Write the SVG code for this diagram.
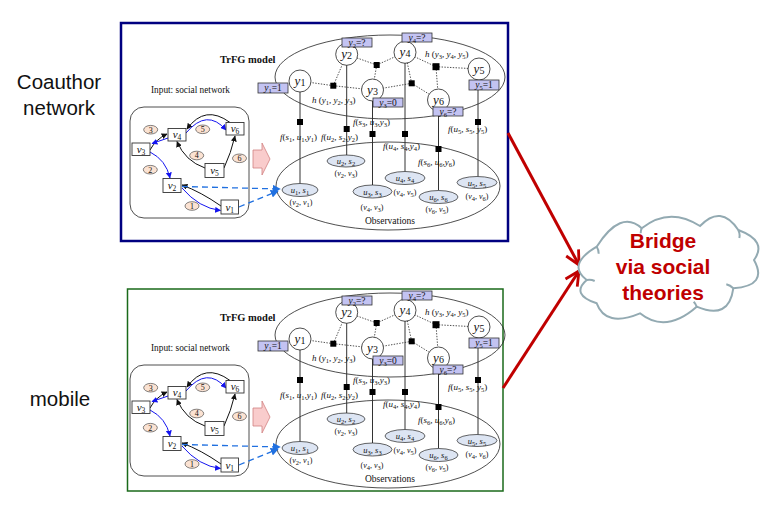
<svg xmlns="http://www.w3.org/2000/svg" width="777" height="509" viewBox="0 0 777 509">
<style>
.ln{fill:none;stroke:#222;stroke-width:0.8}
.vl{stroke:#333;stroke-width:1;fill:none}
.dt{stroke:#222;stroke-width:0.8;stroke-dasharray:1.4 1.4;fill:none}
.sq{fill:#000}
.yc{fill:#fff;stroke:#222;stroke-width:0.8}
.lb{fill:#c3c3f2;stroke:#333;stroke-width:0.8}
.ob{fill:#dde5f3;stroke:#222;stroke-width:0.7}
.nd{fill:#fff;stroke:#333;stroke-width:0.9}
.nm{fill:#fbe2d2;stroke:#333;stroke-width:0.6}
.t{font-family:"Liberation Serif","Times New Roman",serif;fill:#111}
.i{font-style:italic}
.s{font-size:6.5px;baseline-shift:-2px}
.s2{font-size:10px;baseline-shift:-1px}
.s3{font-size:7.5px;baseline-shift:-2px}
.yl{font-size:13px;text-anchor:middle}
.bl{font-size:9.5px;text-anchor:middle}
.fl{font-size:9px}
.ol{font-size:8.5px;text-anchor:middle}
.vt{font-size:8px;text-anchor:middle}
.nl{font-size:11px;text-anchor:middle}
.nn{font-size:8px;text-anchor:middle}
.eb{stroke:#1414f0;stroke-width:1;fill:none}
.ek{stroke:#111;stroke-width:1;fill:none}
.ed{stroke:#2070e0;stroke-width:1.3;stroke-dasharray:6 4;fill:none}
.pa{fill:#f9cccc;stroke:#d08080;stroke-width:0.8}
.big{font-family:"Liberation Sans",Arial,sans-serif;font-size:20.5px;fill:#111;text-anchor:middle}
.ct{font-family:"Liberation Sans",Arial,sans-serif;font-size:21px;font-weight:bold;fill:#c00000;text-anchor:middle}
</style>
<defs>
<marker id="ak" viewBox="0 0 10 10" refX="9" refY="5" markerWidth="6" markerHeight="6" markerUnits="userSpaceOnUse" orient="auto"><path d="M0,0 L10,5 L0,10 z" fill="#111"/></marker>
<marker id="ab" viewBox="0 0 10 10" refX="9" refY="5" markerWidth="6" markerHeight="6" markerUnits="userSpaceOnUse" orient="auto"><path d="M0,0 L10,5 L0,10 z" fill="#1414f0"/></marker>
<marker id="ad" viewBox="0 0 10 10" refX="9" refY="5" markerWidth="8" markerHeight="8" markerUnits="userSpaceOnUse" orient="auto"><path d="M0,0 L10,5 L0,10 z" fill="#2070e0"/></marker>
<marker id="ar" viewBox="0 0 10 10" refX="10" refY="5" markerWidth="14" markerHeight="14" markerUnits="userSpaceOnUse" orient="auto" overflow="visible"><path d="M0,0 L10,5 L0,10" fill="none" stroke="#c00000" stroke-width="2"/></marker>
</defs>
<rect width="777" height="509" fill="#fff"/>

<g id="label-coauthor"><text x="59" y="89" class="big">Coauthor</text><text x="59" y="115" class="big">network</text></g>
<g id="label-mobile"><text x="60" y="406" class="big">mobile</text></g>

<g id="coauthor-panel">
<rect x="121" y="23" width="387" height="218" fill="none" stroke="#000080" stroke-width="2.5"/>
<g id="c-frame">
<ellipse cx="390" cy="77" rx="115" ry="42" class="ln"/>
<ellipse cx="388" cy="186" rx="112" ry="44" class="ln"/>
<text x="390" y="224" class="t" font-size="9.5" text-anchor="middle">Observations</text>
<text x="220" y="63" class="t" font-size="10.5" font-weight="bold">TrFG model</text>
<text x="151" y="93" class="t" font-size="9.3">Input:  social network</text>
<rect x="130" y="107" width="119" height="111" rx="14" class="ln"/>
<polygon class="pa" points="253,150 262,150 262,143 270,159 262,175 262,168 253,168"/>
</g>
<g id="c-connectors">
<path class="ek" d="M150,150 Q156,139 167,134" marker-end="url(#ak)"/>
<path class="eb" d="M168,138 L152,143.5" marker-end="url(#ab)"/>
<path class="ek" d="M230,122.5 Q205,104 187,129" marker-end="url(#ak)"/>
<path class="eb" d="M186,133 Q207,108 226,130" marker-end="url(#ab)"/>
<path class="ek" d="M205,168 Q185,161 177,141.5" marker-end="url(#ak)"/>
<path class="ek" d="M224,168 Q231,153 235,136" marker-end="url(#ak)"/>
<path class="eb" d="M150,152 Q166,160 170,178" marker-end="url(#ab)"/>
<path class="ek" d="M221,206 Q201,192 182,185" marker-end="url(#ak)"/>
<path class="eb" d="M182,188 Q199,208 220.5,210.5" marker-end="url(#ab)"/>
<path class="ed" d="M182,186.5 L280,189" marker-end="url(#ad)"/>
<path class="ed" d="M239,207 L278,191" marker-end="url(#ad)"/>
<path class="dt" d="M333.3,85.7 L300,81 M333.3,85.7 L346.7,54.3 M333.3,85.7 L372.5,90 M376.7,65 L346.7,54.3 M376.7,65 L405,52.3 M376.7,65 L372.5,90 M411.7,83.3 L372.5,90 M411.7,83.3 L405,52.3 M411.7,83.3 L438.5,100 M436,66.7 L405,52.3 M436,66.7 L479,69 M436,66.7 L438.5,100"/>
<path class="vl" d="M300,92 V183.5 M346.7,65 V155 M372.5,101 V185 M405,63 V171.5 M438.5,111 V190.5 M478,80 V176.5"/>
</g>
<g id="c-factors">
<rect class="sq" x="330.3" y="82.7" width="6" height="6"/>
<rect class="sq" x="373.7" y="62" width="6" height="6"/>
<rect class="sq" x="408.7" y="80.3" width="6" height="6"/>
<rect class="sq" x="432.5" y="63.2" width="7" height="7"/>
<rect class="sq" x="297" y="119" width="6" height="6"/>
<rect class="sq" x="343.7" y="126" width="6" height="6"/>
<rect class="sq" x="369.5" y="131" width="6" height="6"/>
<rect class="sq" x="402" y="131" width="6" height="6"/>
<rect class="sq" x="435.5" y="146" width="6" height="6"/>
<rect class="sq" x="475" y="119" width="6" height="6"/>
</g>
<g id="c-factor-labels">
<text x="312" y="103" class="t fl"><tspan class="i">h</tspan> (<tspan class="i">y</tspan><tspan class="s">1</tspan>, <tspan class="i">y</tspan><tspan class="s">2</tspan>, <tspan class="i">y</tspan><tspan class="s">3</tspan>)</text>
<text x="425" y="57" class="t fl"><tspan class="i">h</tspan> (<tspan class="i">y</tspan><tspan class="s">3</tspan>, <tspan class="i">y</tspan><tspan class="s">4</tspan>, <tspan class="i">y</tspan><tspan class="s">5</tspan>)</text>
<text x="280" y="140" class="t fl"><tspan class="i">f</tspan>(<tspan class="i">s</tspan><tspan class="s">1</tspan>, <tspan class="i">u</tspan><tspan class="s">1</tspan>,<tspan class="i">y</tspan><tspan class="s">1</tspan>)</text>
<text x="321" y="140" class="t fl"><tspan class="i">f</tspan>(<tspan class="i">u</tspan><tspan class="s">2</tspan>, <tspan class="i">s</tspan><tspan class="s">2</tspan>,<tspan class="i">y</tspan><tspan class="s">2</tspan>)</text>
<text x="353" y="124.5" class="t fl"><tspan class="i">f</tspan>(<tspan class="i">s</tspan><tspan class="s">3</tspan>, <tspan class="i">u</tspan><tspan class="s">3</tspan>,<tspan class="i">y</tspan><tspan class="s">3</tspan>)</text>
<text x="383" y="149" class="t fl"><tspan class="i">f</tspan>(<tspan class="i">u</tspan><tspan class="s">4</tspan>, <tspan class="i">s</tspan><tspan class="s">4</tspan>,<tspan class="i">y</tspan><tspan class="s">4</tspan>)</text>
<text x="418" y="164.5" class="t fl"><tspan class="i">f</tspan>(<tspan class="i">s</tspan><tspan class="s">6</tspan>, <tspan class="i">u</tspan><tspan class="s">6</tspan>,<tspan class="i">y</tspan><tspan class="s">6</tspan>)</text>
<text x="448" y="132" class="t fl"><tspan class="i">f</tspan>(<tspan class="i">u</tspan><tspan class="s">5</tspan>, <tspan class="i">s</tspan><tspan class="s">5</tspan>, <tspan class="i">y</tspan><tspan class="s">5</tspan>)</text>
</g>
<g id="c-y1"><circle class="yc" cx="300" cy="81" r="11"/><text x="300" y="85" class="t yl"><tspan class="i">y</tspan><tspan class="s2">1</tspan></text><rect class="lb" x="258" y="83" width="30" height="10"/><text x="273" y="91.3" class="t bl"><tspan class="i">y</tspan><tspan class="s">1</tspan>=1</text></g>
<g id="c-y2"><circle class="yc" cx="346.7" cy="54.3" r="11"/><text x="346.7" y="58.3" class="t yl"><tspan class="i">y</tspan><tspan class="s2">2</tspan></text><rect class="lb" x="342" y="38" width="30" height="9"/><text x="357" y="45.6" class="t bl"><tspan class="i">y</tspan><tspan class="s">2</tspan>=?</text></g>
<g id="c-y3"><circle class="yc" cx="372.5" cy="90" r="11"/><text x="372.5" y="94" class="t yl"><tspan class="i">y</tspan><tspan class="s2">3</tspan></text><rect class="lb" x="373" y="98" width="30" height="9"/><text x="388" y="105.6" class="t bl"><tspan class="i">y</tspan><tspan class="s">3</tspan>=0</text></g>
<g id="c-y4"><circle class="yc" cx="405" cy="52.3" r="11"/><text x="405" y="56.3" class="t yl"><tspan class="i">y</tspan><tspan class="s2">4</tspan></text><rect class="lb" x="402" y="33" width="30" height="9"/><text x="417" y="40.6" class="t bl"><tspan class="i">y</tspan><tspan class="s">4</tspan>=?</text></g>
<g id="c-y5"><circle class="yc" cx="479" cy="69" r="11"/><text x="479" y="73" class="t yl"><tspan class="i">y</tspan><tspan class="s2">5</tspan></text><rect class="lb" x="469" y="80" width="30" height="10"/><text x="484" y="88.3" class="t bl"><tspan class="i">y</tspan><tspan class="s">5</tspan>=1</text></g>
<g id="c-y6"><circle class="yc" cx="438.5" cy="100" r="11"/><text x="438.5" y="104" class="t yl"><tspan class="i">y</tspan><tspan class="s2">6</tspan></text><rect class="lb" x="433" y="107" width="30" height="9"/><text x="448" y="114.6" class="t bl"><tspan class="i">y</tspan><tspan class="s">6</tspan>=?</text></g>
<g id="c-obs1"><ellipse class="ob" cx="300" cy="190" rx="18" ry="6.5"/><text x="300" y="193" class="t ol"><tspan class="i">u</tspan><tspan class="s">1</tspan>, <tspan class="i">s</tspan><tspan class="s">1</tspan></text><text x="301" y="204.5" class="t vt">(<tspan class="i">v</tspan><tspan class="s">2</tspan>, <tspan class="i">v</tspan><tspan class="s">1</tspan>)</text></g>
<g id="c-obs2"><ellipse class="ob" cx="346" cy="161" rx="19" ry="6"/><text x="346" y="164" class="t ol"><tspan class="i">u</tspan><tspan class="s">2</tspan>, <tspan class="i">s</tspan><tspan class="s">2</tspan></text><text x="346" y="176" class="t vt">(<tspan class="i">v</tspan><tspan class="s">2</tspan>, <tspan class="i">v</tspan><tspan class="s">3</tspan>)</text></g>
<g id="c-obs3"><ellipse class="ob" cx="372.5" cy="191.5" rx="19.5" ry="6.5"/><text x="372.5" y="194.5" class="t ol"><tspan class="i">u</tspan><tspan class="s">3</tspan>, <tspan class="i">s</tspan><tspan class="s">3</tspan></text><text x="372" y="210" class="t vt">(<tspan class="i">v</tspan><tspan class="s">4</tspan>, <tspan class="i">v</tspan><tspan class="s">3</tspan>)</text></g>
<g id="c-obs4"><ellipse class="ob" cx="405" cy="178" rx="20" ry="6.5"/><text x="405" y="181" class="t ol"><tspan class="i">u</tspan><tspan class="s">4</tspan>, <tspan class="i">s</tspan><tspan class="s">4</tspan></text><text x="405" y="194.5" class="t vt">(<tspan class="i">v</tspan><tspan class="s">4</tspan>, <tspan class="i">v</tspan><tspan class="s">5</tspan>)</text></g>
<g id="c-obs6"><ellipse class="ob" cx="438.5" cy="197" rx="19.5" ry="6.5"/><text x="438.5" y="200" class="t ol"><tspan class="i">u</tspan><tspan class="s">6</tspan>, <tspan class="i">s</tspan><tspan class="s">6</tspan></text><text x="437" y="212" class="t vt">(<tspan class="i">v</tspan><tspan class="s">6</tspan>, <tspan class="i">v</tspan><tspan class="s">5</tspan>)</text></g>
<g id="c-obs5"><ellipse class="ob" cx="477" cy="182.5" rx="20" ry="6"/><text x="477" y="185.5" class="t ol"><tspan class="i">u</tspan><tspan class="s">5</tspan>, <tspan class="i">s</tspan><tspan class="s">5</tspan></text><text x="477" y="199" class="t vt">(<tspan class="i">v</tspan><tspan class="s">4</tspan>, <tspan class="i">v</tspan><tspan class="s">6</tspan>)</text></g>
<g id="c-v1"><rect class="nd" x="221" y="200" width="17.5" height="14"/><text x="229.7" y="210.5" class="t nl"><tspan class="i">v</tspan><tspan class="s3">1</tspan></text></g>
<g id="c-v2"><rect class="nd" x="163" y="178.5" width="18" height="14"/><text x="172" y="189" class="t nl"><tspan class="i">v</tspan><tspan class="s3">2</tspan></text></g>
<g id="c-v3"><rect class="nd" x="132" y="143" width="18" height="12.5"/><text x="141" y="152.5" class="t nl"><tspan class="i">v</tspan><tspan class="s3">3</tspan></text></g>
<g id="c-v4"><rect class="nd" x="168" y="128.5" width="18" height="12.5"/><text x="177" y="138" class="t nl"><tspan class="i">v</tspan><tspan class="s3">4</tspan></text></g>
<g id="c-v5"><rect class="nd" x="205" y="163.5" width="19" height="14"/><text x="214.5" y="174" class="t nl"><tspan class="i">v</tspan><tspan class="s3">5</tspan></text></g>
<g id="c-v6"><rect class="nd" x="226" y="122.5" width="18" height="12.5"/><text x="235" y="132" class="t nl"><tspan class="i">v</tspan><tspan class="s3">6</tspan></text></g>
<g id="c-n1"><ellipse class="nm" cx="192" cy="206" rx="7" ry="4.3"/><text x="192" y="208.8" class="t nn">1</text></g>
<g id="c-n2"><ellipse class="nm" cx="150.3" cy="169.7" rx="7" ry="4.3"/><text x="150.3" y="172.5" class="t nn">2</text></g>
<g id="c-n3"><ellipse class="nm" cx="150.7" cy="129.7" rx="7" ry="4.3"/><text x="150.7" y="132.5" class="t nn">3</text></g>
<g id="c-n4"><ellipse class="nm" cx="196.7" cy="155.5" rx="7" ry="4.3"/><text x="196.7" y="158.3" class="t nn">4</text></g>
<g id="c-n5"><ellipse class="nm" cx="202.7" cy="129.3" rx="7" ry="4.3"/><text x="202.7" y="132.1" class="t nn">5</text></g>
<g id="c-n6"><ellipse class="nm" cx="239.5" cy="158.3" rx="7" ry="4.3"/><text x="239.5" y="161.1" class="t nn">6</text></g>
</g>

<g id="mobile-panel">
<rect x="127.5" y="289" width="375.5" height="202" fill="none" stroke="#1a6a1a" stroke-width="1.5"/>
<g transform="translate(0,258)">
<g id="m-frame">
<ellipse cx="390" cy="77" rx="115" ry="42" class="ln"/>
<ellipse cx="388" cy="186" rx="112" ry="44" class="ln"/>
<text x="390" y="224" class="t" font-size="9.5" text-anchor="middle">Observations</text>
<text x="220" y="63" class="t" font-size="10.5" font-weight="bold">TrFG model</text>
<text x="151" y="93" class="t" font-size="9.3">Input:  social network</text>
<rect x="130" y="107" width="119" height="111" rx="14" class="ln"/>
<polygon class="pa" points="253,150 262,150 262,143 270,159 262,175 262,168 253,168"/>
</g>
<g id="m-connectors">
<path class="ek" d="M150,150 Q156,139 167,134" marker-end="url(#ak)"/>
<path class="eb" d="M168,138 L152,143.5" marker-end="url(#ab)"/>
<path class="ek" d="M230,122.5 Q205,104 187,129" marker-end="url(#ak)"/>
<path class="eb" d="M186,133 Q207,108 226,130" marker-end="url(#ab)"/>
<path class="ek" d="M205,168 Q185,161 177,141.5" marker-end="url(#ak)"/>
<path class="ek" d="M224,168 Q231,153 235,136" marker-end="url(#ak)"/>
<path class="eb" d="M150,152 Q166,160 170,178" marker-end="url(#ab)"/>
<path class="ek" d="M221,206 Q201,192 182,185" marker-end="url(#ak)"/>
<path class="eb" d="M182,188 Q199,208 220.5,210.5" marker-end="url(#ab)"/>
<path class="ed" d="M182,186.5 L280,189" marker-end="url(#ad)"/>
<path class="ed" d="M239,207 L278,191" marker-end="url(#ad)"/>
<path class="dt" d="M333.3,85.7 L300,81 M333.3,85.7 L346.7,54.3 M333.3,85.7 L372.5,90 M376.7,65 L346.7,54.3 M376.7,65 L405,52.3 M376.7,65 L372.5,90 M411.7,83.3 L372.5,90 M411.7,83.3 L405,52.3 M411.7,83.3 L438.5,100 M436,66.7 L405,52.3 M436,66.7 L479,69 M436,66.7 L438.5,100"/>
<path class="vl" d="M300,92 V183.5 M346.7,65 V155 M372.5,101 V185 M405,63 V171.5 M438.5,111 V190.5 M478,80 V176.5"/>
</g>
<g id="m-factors">
<rect class="sq" x="330.3" y="82.7" width="6" height="6"/>
<rect class="sq" x="373.7" y="62" width="6" height="6"/>
<rect class="sq" x="408.7" y="80.3" width="6" height="6"/>
<rect class="sq" x="432.5" y="63.2" width="7" height="7"/>
<rect class="sq" x="297" y="119" width="6" height="6"/>
<rect class="sq" x="343.7" y="126" width="6" height="6"/>
<rect class="sq" x="369.5" y="131" width="6" height="6"/>
<rect class="sq" x="402" y="131" width="6" height="6"/>
<rect class="sq" x="435.5" y="146" width="6" height="6"/>
<rect class="sq" x="475" y="119" width="6" height="6"/>
</g>
<g id="m-factor-labels">
<text x="312" y="103" class="t fl"><tspan class="i">h</tspan> (<tspan class="i">y</tspan><tspan class="s">1</tspan>, <tspan class="i">y</tspan><tspan class="s">2</tspan>, <tspan class="i">y</tspan><tspan class="s">3</tspan>)</text>
<text x="425" y="57" class="t fl"><tspan class="i">h</tspan> (<tspan class="i">y</tspan><tspan class="s">3</tspan>, <tspan class="i">y</tspan><tspan class="s">4</tspan>, <tspan class="i">y</tspan><tspan class="s">5</tspan>)</text>
<text x="280" y="140" class="t fl"><tspan class="i">f</tspan>(<tspan class="i">s</tspan><tspan class="s">1</tspan>, <tspan class="i">u</tspan><tspan class="s">1</tspan>,<tspan class="i">y</tspan><tspan class="s">1</tspan>)</text>
<text x="321" y="140" class="t fl"><tspan class="i">f</tspan>(<tspan class="i">u</tspan><tspan class="s">2</tspan>, <tspan class="i">s</tspan><tspan class="s">2</tspan>,<tspan class="i">y</tspan><tspan class="s">2</tspan>)</text>
<text x="353" y="124.5" class="t fl"><tspan class="i">f</tspan>(<tspan class="i">s</tspan><tspan class="s">3</tspan>, <tspan class="i">u</tspan><tspan class="s">3</tspan>,<tspan class="i">y</tspan><tspan class="s">3</tspan>)</text>
<text x="383" y="149" class="t fl"><tspan class="i">f</tspan>(<tspan class="i">u</tspan><tspan class="s">4</tspan>, <tspan class="i">s</tspan><tspan class="s">4</tspan>,<tspan class="i">y</tspan><tspan class="s">4</tspan>)</text>
<text x="418" y="164.5" class="t fl"><tspan class="i">f</tspan>(<tspan class="i">s</tspan><tspan class="s">6</tspan>, <tspan class="i">u</tspan><tspan class="s">6</tspan>,<tspan class="i">y</tspan><tspan class="s">6</tspan>)</text>
<text x="448" y="132" class="t fl"><tspan class="i">f</tspan>(<tspan class="i">u</tspan><tspan class="s">5</tspan>, <tspan class="i">s</tspan><tspan class="s">5</tspan>, <tspan class="i">y</tspan><tspan class="s">5</tspan>)</text>
</g>
<g id="m-y1"><circle class="yc" cx="300" cy="81" r="11"/><text x="300" y="85" class="t yl"><tspan class="i">y</tspan><tspan class="s2">1</tspan></text><rect class="lb" x="258" y="83" width="30" height="10"/><text x="273" y="91.3" class="t bl"><tspan class="i">y</tspan><tspan class="s">1</tspan>=1</text></g>
<g id="m-y2"><circle class="yc" cx="346.7" cy="54.3" r="11"/><text x="346.7" y="58.3" class="t yl"><tspan class="i">y</tspan><tspan class="s2">2</tspan></text><rect class="lb" x="342" y="38" width="30" height="9"/><text x="357" y="45.6" class="t bl"><tspan class="i">y</tspan><tspan class="s">2</tspan>=?</text></g>
<g id="m-y3"><circle class="yc" cx="372.5" cy="90" r="11"/><text x="372.5" y="94" class="t yl"><tspan class="i">y</tspan><tspan class="s2">3</tspan></text><rect class="lb" x="373" y="98" width="30" height="9"/><text x="388" y="105.6" class="t bl"><tspan class="i">y</tspan><tspan class="s">3</tspan>=0</text></g>
<g id="m-y4"><circle class="yc" cx="405" cy="52.3" r="11"/><text x="405" y="56.3" class="t yl"><tspan class="i">y</tspan><tspan class="s2">4</tspan></text><rect class="lb" x="402" y="33" width="30" height="9"/><text x="417" y="40.6" class="t bl"><tspan class="i">y</tspan><tspan class="s">4</tspan>=?</text></g>
<g id="m-y5"><circle class="yc" cx="479" cy="69" r="11"/><text x="479" y="73" class="t yl"><tspan class="i">y</tspan><tspan class="s2">5</tspan></text><rect class="lb" x="469" y="80" width="30" height="10"/><text x="484" y="88.3" class="t bl"><tspan class="i">y</tspan><tspan class="s">5</tspan>=1</text></g>
<g id="m-y6"><circle class="yc" cx="438.5" cy="100" r="11"/><text x="438.5" y="104" class="t yl"><tspan class="i">y</tspan><tspan class="s2">6</tspan></text><rect class="lb" x="433" y="107" width="30" height="9"/><text x="448" y="114.6" class="t bl"><tspan class="i">y</tspan><tspan class="s">6</tspan>=?</text></g>
<g id="m-obs1"><ellipse class="ob" cx="300" cy="190" rx="18" ry="6.5"/><text x="300" y="193" class="t ol"><tspan class="i">u</tspan><tspan class="s">1</tspan>, <tspan class="i">s</tspan><tspan class="s">1</tspan></text><text x="301" y="204.5" class="t vt">(<tspan class="i">v</tspan><tspan class="s">2</tspan>, <tspan class="i">v</tspan><tspan class="s">1</tspan>)</text></g>
<g id="m-obs2"><ellipse class="ob" cx="346" cy="161" rx="19" ry="6"/><text x="346" y="164" class="t ol"><tspan class="i">u</tspan><tspan class="s">2</tspan>, <tspan class="i">s</tspan><tspan class="s">2</tspan></text><text x="346" y="176" class="t vt">(<tspan class="i">v</tspan><tspan class="s">2</tspan>, <tspan class="i">v</tspan><tspan class="s">3</tspan>)</text></g>
<g id="m-obs3"><ellipse class="ob" cx="372.5" cy="191.5" rx="19.5" ry="6.5"/><text x="372.5" y="194.5" class="t ol"><tspan class="i">u</tspan><tspan class="s">3</tspan>, <tspan class="i">s</tspan><tspan class="s">3</tspan></text><text x="372" y="210" class="t vt">(<tspan class="i">v</tspan><tspan class="s">4</tspan>, <tspan class="i">v</tspan><tspan class="s">3</tspan>)</text></g>
<g id="m-obs4"><ellipse class="ob" cx="405" cy="178" rx="20" ry="6.5"/><text x="405" y="181" class="t ol"><tspan class="i">u</tspan><tspan class="s">4</tspan>, <tspan class="i">s</tspan><tspan class="s">4</tspan></text><text x="405" y="194.5" class="t vt">(<tspan class="i">v</tspan><tspan class="s">4</tspan>, <tspan class="i">v</tspan><tspan class="s">5</tspan>)</text></g>
<g id="m-obs6"><ellipse class="ob" cx="438.5" cy="197" rx="19.5" ry="6.5"/><text x="438.5" y="200" class="t ol"><tspan class="i">u</tspan><tspan class="s">6</tspan>, <tspan class="i">s</tspan><tspan class="s">6</tspan></text><text x="437" y="212" class="t vt">(<tspan class="i">v</tspan><tspan class="s">6</tspan>, <tspan class="i">v</tspan><tspan class="s">5</tspan>)</text></g>
<g id="m-obs5"><ellipse class="ob" cx="477" cy="182.5" rx="20" ry="6"/><text x="477" y="185.5" class="t ol"><tspan class="i">u</tspan><tspan class="s">5</tspan>, <tspan class="i">s</tspan><tspan class="s">5</tspan></text><text x="477" y="199" class="t vt">(<tspan class="i">v</tspan><tspan class="s">4</tspan>, <tspan class="i">v</tspan><tspan class="s">6</tspan>)</text></g>
<g id="m-v1"><rect class="nd" x="221" y="200" width="17.5" height="14"/><text x="229.7" y="210.5" class="t nl"><tspan class="i">v</tspan><tspan class="s3">1</tspan></text></g>
<g id="m-v2"><rect class="nd" x="163" y="178.5" width="18" height="14"/><text x="172" y="189" class="t nl"><tspan class="i">v</tspan><tspan class="s3">2</tspan></text></g>
<g id="m-v3"><rect class="nd" x="132" y="143" width="18" height="12.5"/><text x="141" y="152.5" class="t nl"><tspan class="i">v</tspan><tspan class="s3">3</tspan></text></g>
<g id="m-v4"><rect class="nd" x="168" y="128.5" width="18" height="12.5"/><text x="177" y="138" class="t nl"><tspan class="i">v</tspan><tspan class="s3">4</tspan></text></g>
<g id="m-v5"><rect class="nd" x="205" y="163.5" width="19" height="14"/><text x="214.5" y="174" class="t nl"><tspan class="i">v</tspan><tspan class="s3">5</tspan></text></g>
<g id="m-v6"><rect class="nd" x="226" y="122.5" width="18" height="12.5"/><text x="235" y="132" class="t nl"><tspan class="i">v</tspan><tspan class="s3">6</tspan></text></g>
<g id="m-n1"><ellipse class="nm" cx="192" cy="206" rx="7" ry="4.3"/><text x="192" y="208.8" class="t nn">1</text></g>
<g id="m-n2"><ellipse class="nm" cx="150.3" cy="169.7" rx="7" ry="4.3"/><text x="150.3" y="172.5" class="t nn">2</text></g>
<g id="m-n3"><ellipse class="nm" cx="150.7" cy="129.7" rx="7" ry="4.3"/><text x="150.7" y="132.5" class="t nn">3</text></g>
<g id="m-n4"><ellipse class="nm" cx="196.7" cy="155.5" rx="7" ry="4.3"/><text x="196.7" y="158.3" class="t nn">4</text></g>
<g id="m-n5"><ellipse class="nm" cx="202.7" cy="129.3" rx="7" ry="4.3"/><text x="202.7" y="132.1" class="t nn">5</text></g>
<g id="m-n6"><ellipse class="nm" cx="239.5" cy="158.3" rx="7" ry="4.3"/><text x="239.5" y="161.1" class="t nn">6</text></g>
</g>
</g>

<g id="bridge-connectors">
<path d="M508,133 L579,265" fill="none" stroke="#c00000" stroke-width="3" marker-end="url(#ar)"/>
<path d="M503,388 L579,271" fill="none" stroke="#c00000" stroke-width="3" marker-end="url(#ar)"/>
</g>
<g id="bridge-cloud">
<path d="M596.7,246.7 Q620.8,209.1 641.7,228.3 Q669.2,206.3 700,226 Q720.9,204 738.3,230 Q767.9,241 754,260 Q768.4,285.9 733.3,288.3 Q729,320.5 696.7,306.7 Q665.7,334 640,313.3 Q605.7,327.7 596.7,303.3 Q570.3,294.4 586.7,280 Q566.3,264.7 596.7,246.7 Z" fill="#fff" stroke="#93aab2" stroke-width="2"/>
<path d="M596.7,246.7 q2,3 2,7 M641.7,228.3 q-1,2 -1,5 M738.3,230 q2,4 1,8 M733.3,288.3 q-3,-3 -7,-4 M696.7,306.7 q-1,-3 -3,-5 M586.7,280 q4,-1 8,1" fill="none" stroke="#93aab2" stroke-width="2"/>
<text x="663" y="248" class="ct">Bridge</text>
<text x="663" y="274" class="ct">via social</text>
<text x="663" y="300" class="ct">theories</text>
</g>
</svg>
